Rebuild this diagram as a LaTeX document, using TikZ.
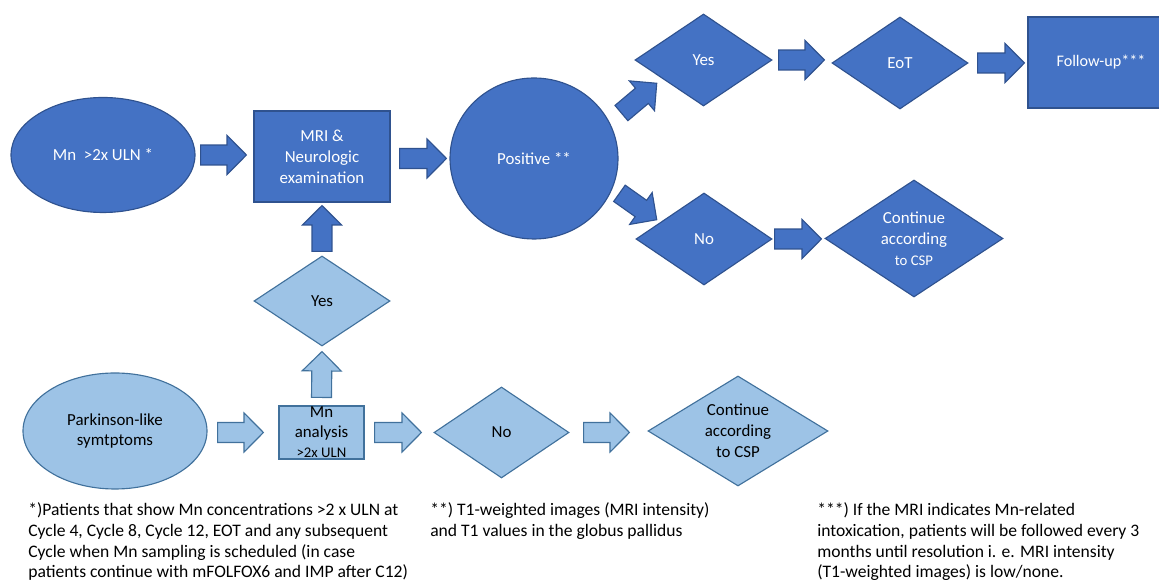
\documentclass[tikz,border=0pt]{standalone}
\usepackage{fontspec}
\setmainfont{Carlito}
\usetikzlibrary{shapes.geometric,calc}
\definecolor{dfill}{HTML}{4472C4}
\definecolor{dborder}{HTML}{2F528F}
\definecolor{lfill}{HTML}{9DC3E6}
\definecolor{lborder}{HTML}{41719C}
\newcommand{\arrshaft}{7.1pt}
\newcommand{\arrwide}{13.9pt}
\newcommand{\arrhead}{13.8pt}
\tikzset{
    blockarr/.style={to path={
        let \p1=(\tikztostart), \p2=(\tikztotarget),
            \n1={veclen(\x2-\x1,\y2-\y1)},
            \n2={(\x2-\x1)/\n1}, \n3={(\y2-\y1)/\n1},
            \n4={\n1-\arrhead}
        in ({\x1-\arrshaft*\n3},{\y1+\arrshaft*\n2})
        -- ({\x1+\n4*\n2-\arrshaft*\n3},{\y1+\n4*\n3+\arrshaft*\n2})
        -- ({\x1+\n4*\n2-\arrwide*\n3},{\y1+\n4*\n3+\arrwide*\n2})
        -- (\x2,\y2)
        -- ({\x1+\n4*\n2+\arrwide*\n3},{\y1+\n4*\n3-\arrwide*\n2})
        -- ({\x1+\n4*\n2+\arrshaft*\n3},{\y1+\n4*\n3-\arrshaft*\n2})
        -- ({\x1+\arrshaft*\n3},{\y1-\arrshaft*\n2})
        -- cycle}}
}
\begin{document}
\begin{tikzpicture}[
        base/.style={line width=0.8pt, inner sep=0pt, align=center, font=\fontsize{12}{14.9}\selectfont},
        dark/.style={base, draw=dborder, fill=dfill, text=white},
        light/.style={base, draw=lborder, fill=lfill, text=black},
        rhomb/.style={diamond, aspect=1.5},
        darrow/.style={blockarr, draw=dborder, fill=dfill, line width=0.8pt},
        larrow/.style={blockarr, draw=lborder, fill=lfill, line width=0.8pt},
        note/.style={anchor=north west, inner sep=0pt, align=left, font=\fontsize{12.5}{14.9}\selectfont}]
                        \useasboundingbox (0,0) rectangle (28.975,14.525);

                        \node[dark, ellipse, minimum width=4.6cm, minimum height=2.875cm] (mn) at (2.575,10.65) {Mn~~>2x ULN *};
                        \node[dark, rectangle, minimum width=3.4cm, minimum height=2.275cm] (mri) at (8.05,10.6125) {MRI \&\\Neurologic\\examination};
                        \node[dark, ellipse, minimum width=4.2cm, minimum height=4.025cm] (pos) at (13.35,10.5625) {Positive **};
                        \node[dark, rhomb, minimum width=3.425cm, minimum height=2.3cm] (yesA) at (17.5875,13.025) {Yes};
                        \node[dark, rhomb, minimum width=3.4cm, minimum height=2.3cm] (eot) at (22.5,12.95) {EoT};
                        \node[dark, rectangle, minimum width=3.65cm, minimum height=2.275cm, font=\fontsize{11.5}{13}\selectfont] (follow) at (27.525,12.9625) {Follow-up***};
                        \node[dark, rhomb, minimum width=3.4cm, minimum height=2.3cm] (noA) at (17.6,8.55) {No};
                        \node[dark, rhomb, minimum width=4.45cm, minimum height=2.925cm] (contA) at (22.85,8.5625) {Continue\\according\\{\fontsize{10.5}{12}\selectfont to CSP}};

                        \node[light, rhomb, minimum width=3.4cm, minimum height=2.25cm] (yesB) at (8.05,7.0) {Yes};
                        \node[light, ellipse, minimum width=4.6cm, minimum height=2.9cm] (park) at (2.875,3.75) {Parkinson-like\\symtptoms};
                        \node[light, rectangle, minimum width=2.125cm, minimum height=1.325cm,
                              label={[align=center, font=\fontsize{12}{14.2}\selectfont]center:Mn\\analysis\\{\fontsize{10.5}{12}\selectfont >2x ULN}}] (mna) at (8.0375,3.7125) {};
                        \node[light, rhomb, minimum width=3.375cm, minimum height=2.275cm] (noB) at (12.5375,3.7125) {No};
                        \node[light, rhomb, minimum width=4.5cm, minimum height=2.75cm] (contB) at (18.45,3.75) {Continue\\according\\to CSP};

                        \draw[darrow] ([xshift=0.125cm]mn.east) to ([xshift=-0.175cm]mri.west |- mn.east);
                        \draw[darrow] ([xshift=0.225cm]mri.east |- pos.west) to ([xshift=-0.075cm]pos.west);
                        \draw[darrow] ([shift={(0.375,0.09)}]pos.30) to ([xshift=-0.306cm]yesA.south west);
                        \draw[darrow] ([shift={(0.325,0.175)}]pos.-30) to ([shift={(-0.325,-0.1)}]noA.north west);
                        \draw[darrow] ([xshift=0.15cm]yesA.east) to ([xshift=-0.175cm]eot.west |- yesA.east);
                        \draw[darrow] ([xshift=0.225cm]eot.east) to ([xshift=-0.075cm]follow.west |- eot.east);
                        \draw[darrow] ([xshift=0.05cm]noA.east) to ([xshift=-0.075cm]contA.west |- noA.east);
                        \draw[darrow] ([yshift=0.1cm]yesB.north) to ([yshift=-0.075cm]mri.south);

                        \draw[larrow] ([yshift=0.2cm]mna.north) to ([yshift=-0.125cm]yesB.south);
                        \draw[larrow] ([xshift=0.25cm]park.east |- mna.west) to ([xshift=-0.375cm]mna.west);
                        \draw[larrow] ([xshift=0.25cm]mna.east) to ([xshift=-0.3cm]noB.west);
                        \draw[larrow] ([xshift=0.35cm]noB.east) to ([xshift=-0.45cm]contB.west |- noB.east);

                        \node[note] (noteA) at (0.7,1.975) {*)Patients that show Mn concentrations >2 x ULN at\\Cycle 4, Cycle 8, Cycle 12, EOT and any subsequent\\Cycle when Mn sampling is scheduled (in case\\patients continue with mFOLFOX6 and IMP after C12)};
                        \node[note] (noteB) at (10.75,1.975) {**) T1-weighted images (MRI intensity)\\and T1 values in the globus pallidus};
                        \node[note] (noteC) at (20.425,1.975) {***) If the MRI indicates Mn-related\\intoxication, patients will be followed every 3\\months until resolution i. e. MRI intensity\\(T1-weighted images) is low/none.};
                    \end{tikzpicture}
\end{document}
